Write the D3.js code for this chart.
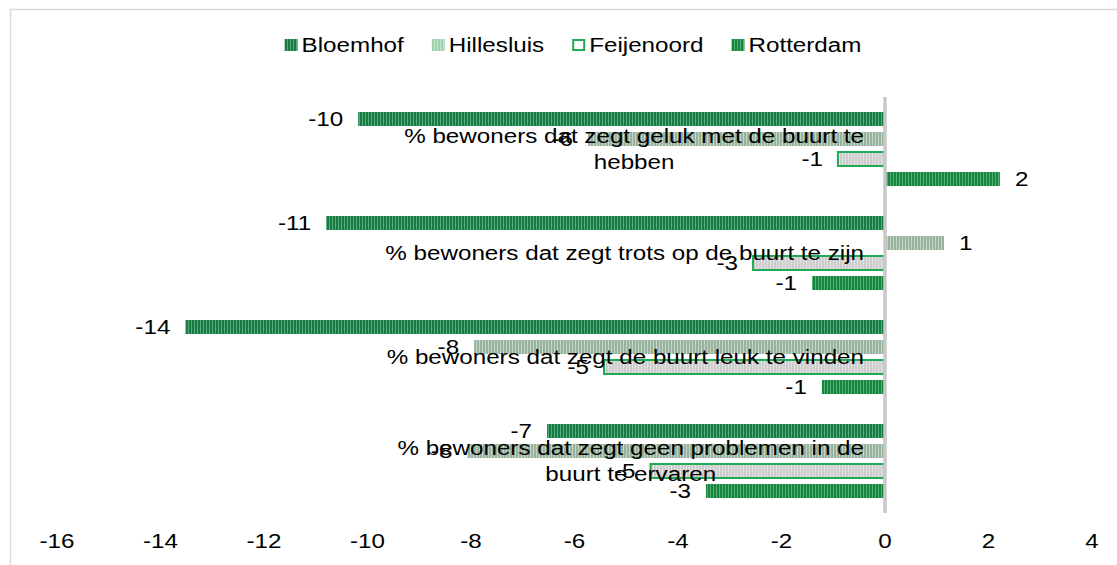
<!DOCTYPE html>
<html>
<head>
<meta charset="utf-8">
<script src="https://cdn.jsdelivr.net/npm/d3@7"></script>
<style>
  html, body { margin: 0; padding: 0; background: #fff; }
  svg { display: block; font-family: "Liberation Sans", Arial, sans-serif; }
</style>
</head>
<body>
<svg id="chart" width="1117" height="565"></svg>
<script>
// ---- data ----
const categories = [
  "% bewoners dat zegt geluk met de buurt te hebben",
  "% bewoners dat zegt trots op de buurt te zijn",
  "% bewoners dat zegt de buurt leuk te vinden",
  "% bewoners dat zegt geen problemen in de buurt te ervaren"
];
const categoryLines = [
  ["% bewoners dat zegt geluk met de buurt te", "hebben"],
  ["% bewoners dat zegt trots op de buurt te zijn"],
  ["% bewoners dat zegt de buurt leuk te vinden"],
  ["% bewoners dat zegt geen problemen in de", "buurt te ervaren"]
];
const seriesNames = ["Bloemhof", "Hillesluis", "Feijenoord", "Rotterdam"];
const bloemhof   = [-10.18, -10.8, -13.52, -6.53];
const hillesluis = [-5.74, 1.14, -7.94, -8.07];
const feijenoord = [-0.91, -2.55, -5.43, -4.53];
const rotterdam  = [2.22, -1.41, -1.22, -3.46];
const xTicks = [-16, -14, -12, -10, -8, -6, -4, -2, 0, 2, 4];

const seriesValues = [bloemhof, hillesluis, feijenoord, rotterdam];

// ---- setup ----
const SX = 1.21;       // horizontal stretch of the text in the reference
const FS = 20;
const svg = d3.select("#chart");
const defs = svg.append("defs");

function stripePattern(id, bg, fg, w, fw) {
  const p = defs.append("pattern").attr("id", id)
    .attr("patternUnits", "userSpaceOnUse").attr("width", w).attr("height", 10);
  p.append("rect").attr("width", w).attr("height", 10).attr("fill", bg);
  p.append("rect").attr("x", w - fw).attr("width", fw).attr("height", 10).attr("fill", fg);
}
stripePattern("pBloem", "#177c43", "#5aa878", 3, 1);
stripePattern("pHille", "#97b39d", "#c6d4c8", 3, 1);
stripePattern("pFeij", "#cdcdcd", "#e2e2e2", 3, 1);
stripePattern("pRott", "#17843f", "#52b073", 3, 1);
stripePattern("pHilleLeg", "#9fd2ac", "#c7e6cf", 3, 1);

const barFill = ["url(#pBloem)", "url(#pHille)", "url(#pFeij)", "url(#pRott)"];
const barStroke = [null, null, "#1faa55", null];
const legFill = ["url(#pBloem)", "url(#pHilleLeg)", "#ffffff", "url(#pRott)"];

function txt(g, x, y, s, anchor) {
  return g.append("text")
    .attr("transform", `translate(${x},${y}) scale(${SX},1)`)
    .attr("text-anchor", anchor)
    .attr("dy", "0.35em")
    .attr("font-size", FS)
    .attr("fill", "#000")
    .text(s);
}

// chart border
svg.append("rect").attr("x", 10.5).attr("y", 9.5).attr("width", 1200).attr("height", 700)
  .attr("fill", "none").attr("stroke", "#d9d9d9").attr("stroke-width", 1.5);

// scales
const x = d3.scaleLinear().domain([-16, 4]).range([57, 1092]);
const y0 = d3.scaleBand().domain(categories).range([97, 513]);
const y1 = d3.scaleBand().domain(seriesNames).range([15, 89]).paddingInner(0.3);

// bars
const gBars = svg.append("g");
categories.forEach((c, ci) => {
  seriesNames.forEach((s, si) => {
    const v = seriesValues[si][ci];
    const r = gBars.append("rect")
      .attr("x", Math.min(x(v), x(0)))
      .attr("y", y0(c) + y1(s))
      .attr("width", Math.abs(x(v) - x(0)))
      .attr("height", y1.bandwidth())
      .attr("fill", barFill[si]);
    if (barStroke[si]) r.attr("stroke", barStroke[si]).attr("stroke-width", 2);
  });
});

// zero axis line
svg.append("line").attr("x1", x(0)).attr("x2", x(0)).attr("y1", 97).attr("y2", 513)
  .attr("stroke", "#c8c8c8").attr("stroke-width", 3.5);

// category labels
const gCat = svg.append("g");
const blockRight = x(0) - 21;
const lineH = 26;
categories.forEach((c, ci) => {
  const lines = categoryLines[ci];
  const cy = y0(c) + y0.bandwidth() / 2;
  const nodes = lines.map((l, li) => txt(gCat, 0, 0, l, "middle"));
  const maxW = d3.max(nodes, n => n.node().getComputedTextLength() * SX);
  const cx = blockRight - maxW / 2;
  nodes.forEach((n, li) => {
    const ly = cy + (li - (lines.length - 1) / 2) * lineH;
    n.attr("transform", `translate(${cx},${ly}) scale(${SX},1)`);
  });
});

// data labels
const gLab = svg.append("g");
categories.forEach((c, ci) => {
  seriesNames.forEach((s, si) => {
    const v = seriesValues[si][ci];
    const cy = y0(c) + y1(s) + y1.bandwidth() / 2;
    const lab = String(Math.round(v));
    if (v < 0) txt(gLab, x(v) - 15, cy, lab, "end");
    else txt(gLab, x(v) + 15, cy, lab, "start");
  });
});

// x axis tick labels
const gAx = svg.append("g");
xTicks.forEach(t => txt(gAx, x(t), 541, String(t), "middle"));

// legend
const gLeg = svg.append("g");
const mW = 13, mH = 12, mGap = 4, itemGap = 28, legY = 45;
const items = seriesNames.map((s, i) => {
  const t = txt(gLeg, 0, legY, s, "start");
  return { t, w: t.node().getComputedTextLength() * SX, i };
});
const total = d3.sum(items, d => mW + mGap + d.w) + itemGap * (items.length - 1);
let cx = 573 - total / 2;
items.forEach(d => {
  const m = gLeg.append("rect").attr("x", cx).attr("y", legY - mH / 2)
    .attr("width", mW).attr("height", mH).attr("fill", legFill[d.i]);
  if (d.i === 2) m.attr("x", cx + 1).attr("y", legY - mH / 2 + 1).attr("width", mW - 2).attr("height", mH - 2)
    .attr("stroke", "#1faa55").attr("stroke-width", 2);
  d.t.attr("transform", `translate(${cx + mW + mGap},${legY}) scale(${SX},1)`);
  cx += mW + mGap + d.w + itemGap;
});
</script>
</body>
</html>
